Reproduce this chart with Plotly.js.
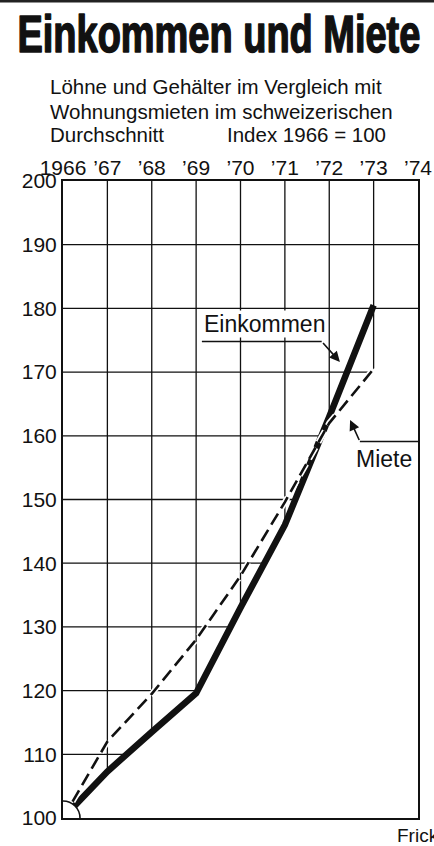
<!DOCTYPE html>
<html>
<head>
<meta charset="utf-8">
<script src="https://cdn.plot.ly/plotly-3.0.1.min.js"></script>
<style>
  html, body { margin: 0; padding: 0; background: #ffffff; }
  #chart { width: 434px; height: 846px; }
</style>
</head>
<body>
<div id="chart"></div>
<script>
// ---- data ----
const years = [1966, 1967, 1968, 1969, 1970, 1971, 1972, 1973];
const einkommen = [100, 107.3, 113.5, 119.6, 133, 146, 163, 180.5];
const miete = [100, 112, 119.5, 128, 138, 149.6, 162, 170.5];

const tickYears = [1966, 1967, 1968, 1969, 1970, 1971, 1972, 1973, 1974];
const tickLabels = ["1966", "\u201967", "\u201968", "\u201969", "\u201970", "\u201971", "\u201972", "\u201973", "\u201974"];
const yTicks = [100, 110, 120, 130, 140, 150, 160, 170, 180, 190, 200];

const titleText = "Einkommen und Miete";
const subLine1 = "Löhne und Gehälter im Vergleich mit";
const subLine2 = "Wohnungsmieten im schweizerischen";
const subLine3a = "Durchschnitt";
const subLine3b = "Index 1966 = 100";
const labelEinkommen = "Einkommen";
const labelMiete = "Miete";
const credit = "Frick";

const X0 = tickYears[0], X1 = tickYears[tickYears.length - 1];
const Y0 = yTicks[0], Y1 = yTicks[yTicks.length - 1];

// ---- grid drawn as a trace (so the white mask can hide the part below the curves) ----
const gridX = [], gridY = [];
tickYears.slice(1, -1).forEach(v => { gridX.push(v, v, null); gridY.push(Y0, Y1, null); });
yTicks.slice(1, -1).forEach(v => { gridX.push(X0, X1, null); gridY.push(v, v, null); });

// ---- white mask below the lower of the two curves ----
const maskX = [], maskY = [];
for (let i = 0; i < years.length; i++) {
  maskX.push(years[i]);
  maskY.push(Math.min(einkommen[i], miete[i]));
  if (i < years.length - 1) {
    const d0 = einkommen[i] - miete[i];
    const d1 = einkommen[i + 1] - miete[i + 1];
    if (d0 * d1 < 0) {
      const t = d0 / (d0 - d1);
      maskX.push(years[i] + t);
      maskY.push(einkommen[i] + t * (einkommen[i + 1] - einkommen[i]));
    }
  }
}
maskX.push(X1);
maskY.push(maskY[maskY.length - 1]);

const BASE = "Liberation Sans, Arial, sans-serif";

const traces = [
  {x: gridX, y: gridY, mode: 'lines', connectgaps: false,
   line: {width: 1.3, color: '#111111'}, hoverinfo: 'skip', showlegend: false},
  {x: maskX, y: maskY, mode: 'lines', fill: 'tozeroy', fillcolor: '#ffffff',
   line: {width: 1, color: '#ffffff'}, hoverinfo: 'skip', showlegend: false},
  {x: years, y: einkommen, mode: 'lines', line: {color: '#111111', width: 6.5},
   hoverinfo: 'skip', showlegend: false},
  {x: years, y: miete, mode: 'lines', line: {color: '#ffffff', width: 6, dash: '13px,6px'},
   hoverinfo: 'skip', showlegend: false},
  {x: years, y: miete, mode: 'lines', line: {color: '#111111', width: 2.6, dash: '13px,6px'},
   hoverinfo: 'skip', showlegend: false}
];

// plot area in pixels: left 63, right 418, top 181, bottom 818
const PX = px => (px - 63) / 355;
const PY = py => (818 - py) / 637;

const layout = {
  width: 434, height: 846,
  margin: {l: 63, r: 16, t: 181, b: 28, pad: 0},
  paper_bgcolor: '#ffffff', plot_bgcolor: '#ffffff',
  showlegend: false,
  xaxis: {
    range: [X0, X1], side: 'top',
    tickvals: tickYears, ticktext: tickLabels,
    showgrid: false,
    showline: true, linecolor: '#111111', linewidth: 2, mirror: true,
    zeroline: false, ticks: '', ticklabelstandoff: -4,
    tickfont: {family: BASE, size: 21, color: '#111111'},
    fixedrange: true
  },
  yaxis: {
    range: [Y0, Y1], tickvals: yTicks,
    showgrid: false,
    showline: true, linecolor: '#111111', linewidth: 2, mirror: true,
    zeroline: false, ticks: '',
    tickfont: {family: BASE, size: 21, color: '#111111'},
    fixedrange: true
  },
  shapes: [
    // top rule of the newspaper box
    {type: 'line', xref: 'paper', yref: 'paper', x0: PX(0), x1: PX(434), y0: PY(1), y1: PY(1),
     line: {color: '#222222', width: 3}},
    // origin circle
    {type: 'circle', xref: 'x', yref: 'y', xsizemode: 'pixel', ysizemode: 'pixel',
     xanchor: X0, yanchor: Y0, x0: -17, x1: 17, y0: -17, y1: 17,
     fillcolor: '#ffffff', line: {color: '#111111', width: 1.6}, layer: 'above'},
    // Einkommen pointer horizontal part
    {type: 'line', xref: 'x', yref: 'y', x0: 1969.13, x1: 1971.83, y0: 174.8, y1: 174.8,
     line: {color: '#111111', width: 1.6}},
    // Miete pointer horizontal part
    {type: 'line', xref: 'x', yref: 'y', x0: 1972.69, x1: X1, y0: 159.1, y1: 159.1,
     line: {color: '#111111', width: 1.6}}
  ],
  annotations: [
    {text: titleText, xref: 'paper', yref: 'paper', x: PX(218.5), y: PY(34),
     xanchor: 'center', yanchor: 'middle', showarrow: false,
     font: {family: BASE, size: 52, color: '#111111', weight: 700}},
    {text: subLine1, xref: 'paper', yref: 'paper', x: PX(48), y: PY(87),
     xanchor: 'left', yanchor: 'middle', showarrow: false,
     font: {family: BASE, size: 20.5, color: '#111111'}},
    {text: subLine2, xref: 'paper', yref: 'paper', x: PX(48), y: PY(111.5),
     xanchor: 'left', yanchor: 'middle', showarrow: false,
     font: {family: BASE, size: 20.5, color: '#111111'}},
    {text: subLine3a, xref: 'paper', yref: 'paper', x: PX(48), y: PY(134.5),
     xanchor: 'left', yanchor: 'middle', showarrow: false,
     font: {family: BASE, size: 20.5, color: '#111111'}},
    {text: subLine3b, xref: 'paper', yref: 'paper', x: PX(225), y: PY(134.5),
     xanchor: 'left', yanchor: 'middle', showarrow: false,
     font: {family: BASE, size: 20.5, color: '#111111'}},
    {text: labelEinkommen, xref: 'x', yref: 'y', x: 1970.54, y: 177.6,
     xanchor: 'center', yanchor: 'middle', showarrow: false, bgcolor: '#ffffff', borderpad: 0,
     font: {family: BASE, size: 23, color: '#111111'}},
    {text: '', xref: 'x', yref: 'y', x: 1972.24, y: 171.6,
     axref: 'x', ayref: 'y', ax: 1971.83, ay: 174.8, showarrow: true,
     arrowhead: 2, arrowsize: 1.3, arrowwidth: 1.6, arrowcolor: '#111111'},
    {text: labelMiete, xref: 'x', yref: 'y', x: 1973.24, y: 156.4,
     xanchor: 'center', yanchor: 'middle', showarrow: false,
     font: {family: BASE, size: 23, color: '#111111'}},
    {text: '', xref: 'x', yref: 'y', x: 1972.47, y: 162.5,
     axref: 'x', ayref: 'y', ax: 1972.69, ay: 159.1, showarrow: true,
     arrowhead: 2, arrowsize: 1.3, arrowwidth: 1.6, arrowcolor: '#111111'},
    {text: credit, xref: 'paper', yref: 'paper', x: PX(395), y: PY(835),
     xanchor: 'left', yanchor: 'middle', showarrow: false,
     font: {family: BASE, size: 19, color: '#111111'}}
  ]
};

Plotly.newPlot('chart', traces, layout, {staticPlot: true, displayModeBar: false}).then(gd => {
  // condense the headline horizontally like the original condensed type
  const t = gd.querySelector('.annotation[data-index="0"] text');
  if (t) {
    const bb = t.getBBox();
    const target = 403;
    if (bb.width > 0) {
      const sx = target / bb.width;
      const cx = bb.x + bb.width / 2;
      t.setAttribute('transform', 'translate(' + cx + ',0) scale(' + sx + ',1) translate(' + (-cx) + ',0)');
      t.style.stroke = '#111111';
      t.style.strokeWidth = '1.6px';
      t.style.strokeLinejoin = 'round';
    }
  }
});
</script>
</body>
</html>
